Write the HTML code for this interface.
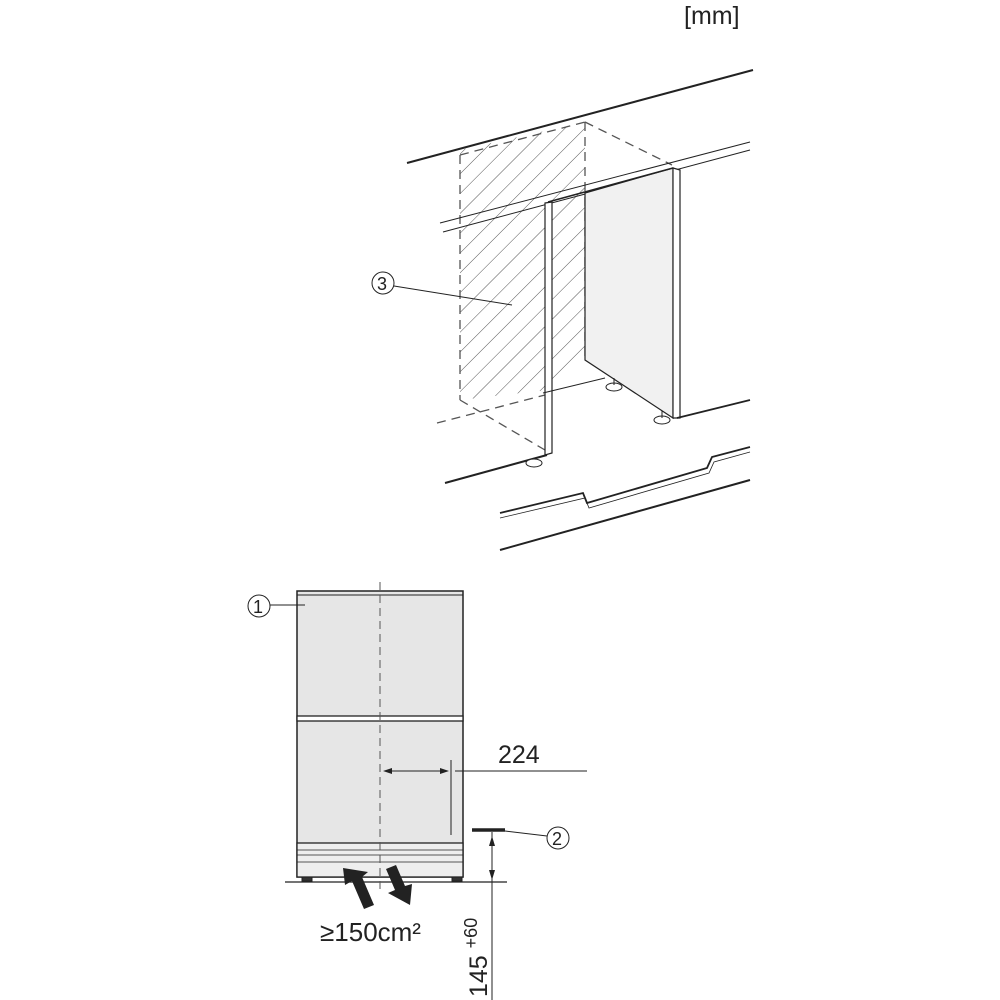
<!DOCTYPE html>
<html><head><meta charset="utf-8"><style>body{margin:0;background:#fff}svg{display:block}text{font-family:"Liberation Sans",sans-serif;fill:#222}</style></head><body>
<svg width="1000" height="1000" viewBox="0 0 1000 1000" xmlns="http://www.w3.org/2000/svg">
<defs>
<pattern id="h" patternUnits="userSpaceOnUse" width="14" height="14" patternTransform="rotate(45)">
<line x1="0" y1="0" x2="0" y2="14" stroke="#555" stroke-width="1"/>
</pattern>
<clipPath id="c"><polygon points="460,150 585,122 585,360 548,390 460,400"/></clipPath>
</defs>
<text x="684" y="24" font-size="25">[mm]</text>
<g stroke="#222" fill="none">
<line x1="407" y1="163" x2="753" y2="70" stroke-width="2"/>
<rect x="440" y="110" width="160" height="300" fill="url(#h)" stroke="none" clip-path="url(#c)"/>
<g stroke-dasharray="9,6" stroke="#555" stroke-width="1.3">
<line x1="460" y1="155" x2="460" y2="400"/>
<line x1="460" y1="155" x2="585" y2="122"/>
<line x1="585" y1="122" x2="585" y2="360"/>
<line x1="585" y1="122" x2="672" y2="165"/>
<line x1="460" y1="400" x2="545" y2="450"/>
<line x1="437" y1="423" x2="545" y2="395"/>
</g>
<line x1="440" y1="223" x2="750" y2="142" stroke-width="1"/>
<line x1="443" y1="232" x2="750" y2="150" stroke-width="1"/>
<polygon points="585,193 673,168 673,418 585,360" fill="#f1f1f1" stroke-width="1.2"/>
<line x1="548" y1="202" x2="673" y2="168" stroke-width="1.5"/>
<polygon points="545,203 552,202 552,453 545,455" fill="#fff" stroke-width="1.2"/>
<polygon points="673,168 680,170 680,418 673,418" fill="#fff" stroke-width="1.2"/>
<line x1="677" y1="418" x2="750" y2="400" stroke-width="1.8"/>
<line x1="543" y1="393" x2="605" y2="378" stroke-width="1"/>
<line x1="445" y1="483" x2="547" y2="455" stroke-width="2"/>
<ellipse cx="534" cy="463" rx="8" ry="4" fill="#fff"/>
<ellipse cx="614" cy="387" rx="8" ry="4" fill="#fff"/>
<line x1="614" y1="378" x2="614" y2="385"/>
<ellipse cx="662" cy="420" rx="8" ry="4" fill="#fff"/>
<line x1="662" y1="411" x2="662" y2="418"/>
<polyline points="500,513 583,493 587,503 707,468 712,457 750,447" stroke-width="1.8"/>
<polyline points="500,518 585,498 589,508 709,473 714,462 750,452" stroke-width="0.8"/>
<line x1="500" y1="550" x2="750" y2="480" stroke-width="2"/>
<circle cx="383" cy="283" r="11" stroke-width="1"/>
<line x1="394" y1="286" x2="512" y2="305" stroke-width="1"/>
</g>
<text x="377" y="290" font-size="18">3</text>
<g stroke="#222" fill="none">
<rect x="297" y="591" width="166" height="286" fill="#e6e6e6" stroke-width="1.5"/>
<line x1="297" y1="595" x2="463" y2="595" stroke-width="1"/>
<rect x="297" y="716" width="166" height="5" fill="#fff" stroke-width="1.3"/>
<rect x="297" y="843" width="166" height="34" fill="#eee" stroke-width="1.3"/>
<line x1="297" y1="850" x2="463" y2="850" stroke-width="0.8"/>
<line x1="297" y1="855" x2="463" y2="855" stroke-width="0.8"/>
<line x1="297" y1="862" x2="463" y2="862" stroke-width="0.8"/>
<line x1="285" y1="882" x2="507" y2="882" stroke-width="1.3"/>
<rect x="302" y="877" width="10" height="4" fill="#333"/>
<rect x="452" y="877" width="10" height="4" fill="#333"/>
<line x1="380" y1="582" x2="380" y2="890" stroke-dasharray="8,5" stroke="#555" stroke-width="1"/>
<line x1="386" y1="771" x2="445" y2="771" stroke-width="1"/>
<line x1="451" y1="760" x2="451" y2="835" stroke-width="1"/>
<line x1="455" y1="771" x2="587" y2="771" stroke-width="1"/>
<line x1="472" y1="830" x2="505" y2="830" stroke-width="3.5"/>
<line x1="505" y1="831" x2="547" y2="836" stroke-width="1"/>
<circle cx="558" cy="838" r="11" stroke-width="1"/>
<line x1="492" y1="832" x2="492" y2="1000" stroke-width="1"/>
<line x1="484" y1="882" x2="500" y2="882" stroke-width="1"/>
<circle cx="259" cy="606" r="11" stroke-width="1"/>
<line x1="270" y1="605" x2="305" y2="605" stroke-width="1"/>
</g>
<g fill="#222">
<polygon points="383,771 392,768 392,774"/>
<polygon points="449,771 440,768 440,774"/>
<polygon points="492,836 489,846 495,846"/>
<polygon points="492,880 489,870 495,870"/>
<polygon points="343,868 368,872 362,877 374,905 364,909 352,881 345,885"/>
<polygon points="410,905 388,893 395,890 386,869 396,865 405,886 412,884"/>
</g>
<text x="253" y="613" font-size="18">1</text>
<text x="552" y="845" font-size="18">2</text>
<text x="498" y="763" font-size="25">224</text>
<text x="320" y="941" font-size="26">≥150cm²</text>
<text transform="translate(487,997) rotate(-90)" font-size="25">145 <tspan font-size="18" dy="-10">+60</tspan></text>
</svg>
</body></html>
